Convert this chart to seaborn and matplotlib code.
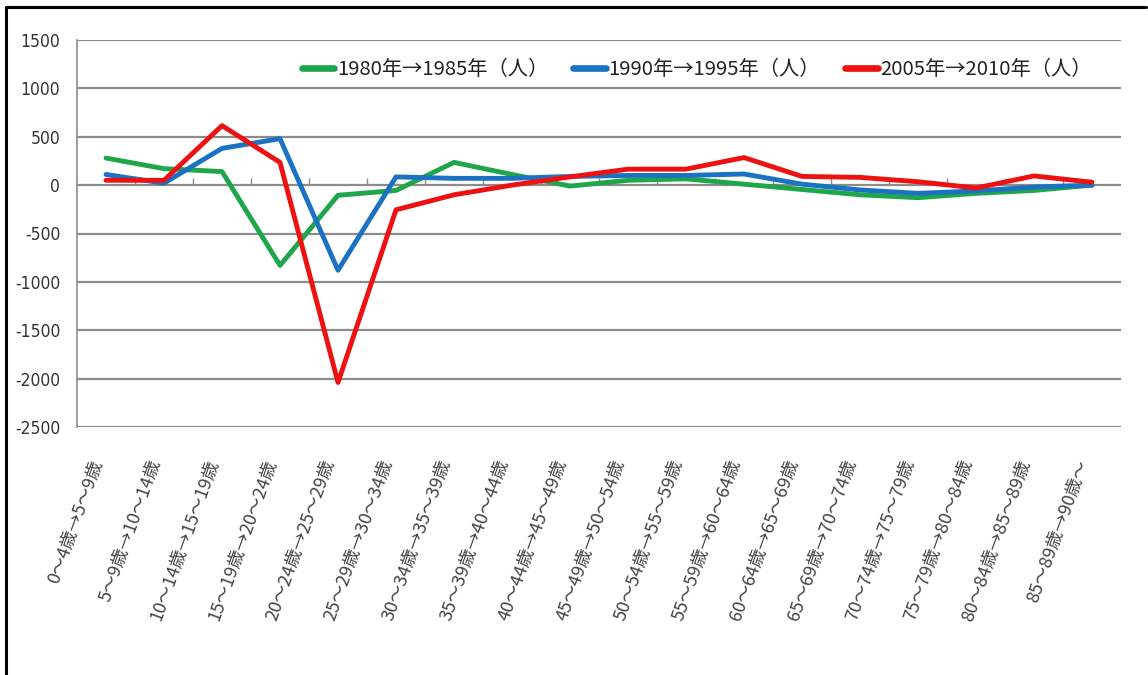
import matplotlib
matplotlib.use("Agg")
import matplotlib.pyplot as plt
from matplotlib.lines import Line2D
import matplotlib.transforms as mtransforms
import seaborn as sns
import pandas as pd
import numpy as np

categories = ["0～4歳→5～9歳", "5～9歳→10～14歳", "10～14歳→15～19歳", "15～19歳→20～24歳",
              "20～24歳→25～29歳", "25～29歳→30～34歳", "30～34歳→35～39歳", "35～39歳→40～44歳",
              "40～44歳→45～49歳", "45～49歳→50～54歳", "50～54歳→55～59歳", "55～59歳→60～64歳",
              "60～64歳→65～69歳", "65～69歳→70～74歳", "70～74歳→75～79歳", "75～79歳→80～84歳",
              "80～84歳→85～89歳", "85～89歳→90歳～"]
series_names = ["1980年→1985年（人）", "1990年→1995年（人）", "2005年→2010年（人）"]
s1980 = [280, 170, 140, -830, -105, -55, 235, 110, -10, 50, 65, 10, -45, -100, -130, -85, -55, 0]
s1990 = [110, 20, 380, 480, -880, 85, 70, 70, 90, 100, 100, 115, 10, -50, -85, -60, -20, 0]
s2005 = [50, 50, 615, 235, -2040, -255, -100, 0, 85, 165, 165, 285, 90, 80, 35, -30, 95, 30]
yticks = [1500, 1000, 500, 0, -500, -1000, -1500, -2000, -2500]
colors = ["#1fa64a", "#1b72c2", "#ee1111"]

sns.set_theme(style="white")
plt.rcParams['font.family'] = ['Noto Sans CJK JP', 'DejaVu Sans']

rows = []
for name, vals in zip(series_names, [s1980, s1990, s2005]):
    for i, v in enumerate(vals):
        rows.append({"idx": i, "value": v, "series": name})
df = pd.DataFrame(rows)

fig = plt.figure(figsize=(11.48, 6.75), dpi=100)
ax = fig.add_axes([77/1148, 1-427/675, (1121-77)/1148, (427-40)/675])

sns.lineplot(data=df, x="idx", y="value", hue="series", palette=colors,
             linewidth=3.5, sort=False, ax=ax, legend=False)

ax.set_xlim(-0.5, len(categories) - 0.5)
ax.set_ylim(-2500, 1500)
ax.set_yticks(yticks)
ax.set_yticklabels([str(t) for t in yticks], fontsize=12.5, color="#333333",
                   family=['DejaVu Sans'], stretch='condensed')
ax.yaxis.grid(True, color="#8c8c8c", linewidth=1.6)
ax.set_axisbelow(True)
ax.tick_params(axis="y", length=0, pad=12)
for s in ["top", "right", "bottom"]:
    ax.spines[s].set_visible(False)
ax.spines["left"].set_color("#8c8c8c")
ax.spines["left"].set_linewidth(1.2)

ax.set_xticks(range(len(categories)))
ax.set_xticklabels(categories, rotation=70, ha="right", va="center", rotation_mode="anchor",
                   fontsize=13, color="#444444",
                   family=['Noto Sans CJK JP', 'DejaVu Sans'])
ax.tick_params(axis="x", length=0, pad=24)
shift = mtransforms.ScaledTranslation(-8/100, 0, fig.dpi_scale_trans)
for lab in ax.get_xticklabels():
    lab.set_transform(lab.get_transform() + shift)
ax.set_xlabel("")
ax.set_ylabel("")

# category-boundary ticks on the zero line
sec = ax.secondary_xaxis(2500 / 4000)
sec.set_xticks(np.arange(0.5, len(categories) - 1, 1.0))
sec.set_xticklabels([])
sec.tick_params(axis="x", direction="out", length=5, color="#8c8c8c", width=1)
sec.spines["bottom"].set_visible(False)
sec.spines["top"].set_visible(False)

handles = [Line2D([0], [0], color=c, linewidth=4.8) for c in colors]
leg = ax.legend(handles, series_names, loc="upper left", bbox_to_anchor=(0.198, 0.998),
                ncol=3, frameon=False, handlelength=1.6, handletextpad=0.12,
                columnspacing=1.25, prop={'family': ['Noto Sans CJK JP', 'DejaVu Sans'], 'size': 14.6})
for t in leg.get_texts():
    t.set_color("#222222")

# outer frame lines (left and top)
fig.add_artist(Line2D([6/1148, 6/1148], [0, 1-7/675], transform=fig.transFigure, color="black", linewidth=2.2))
fig.add_artist(Line2D([6/1148, 1146/1148], [1-7/675, 1-7/675], transform=fig.transFigure, color="black", linewidth=2.2))

fig.savefig("out.png", dpi=100, facecolor="white")
